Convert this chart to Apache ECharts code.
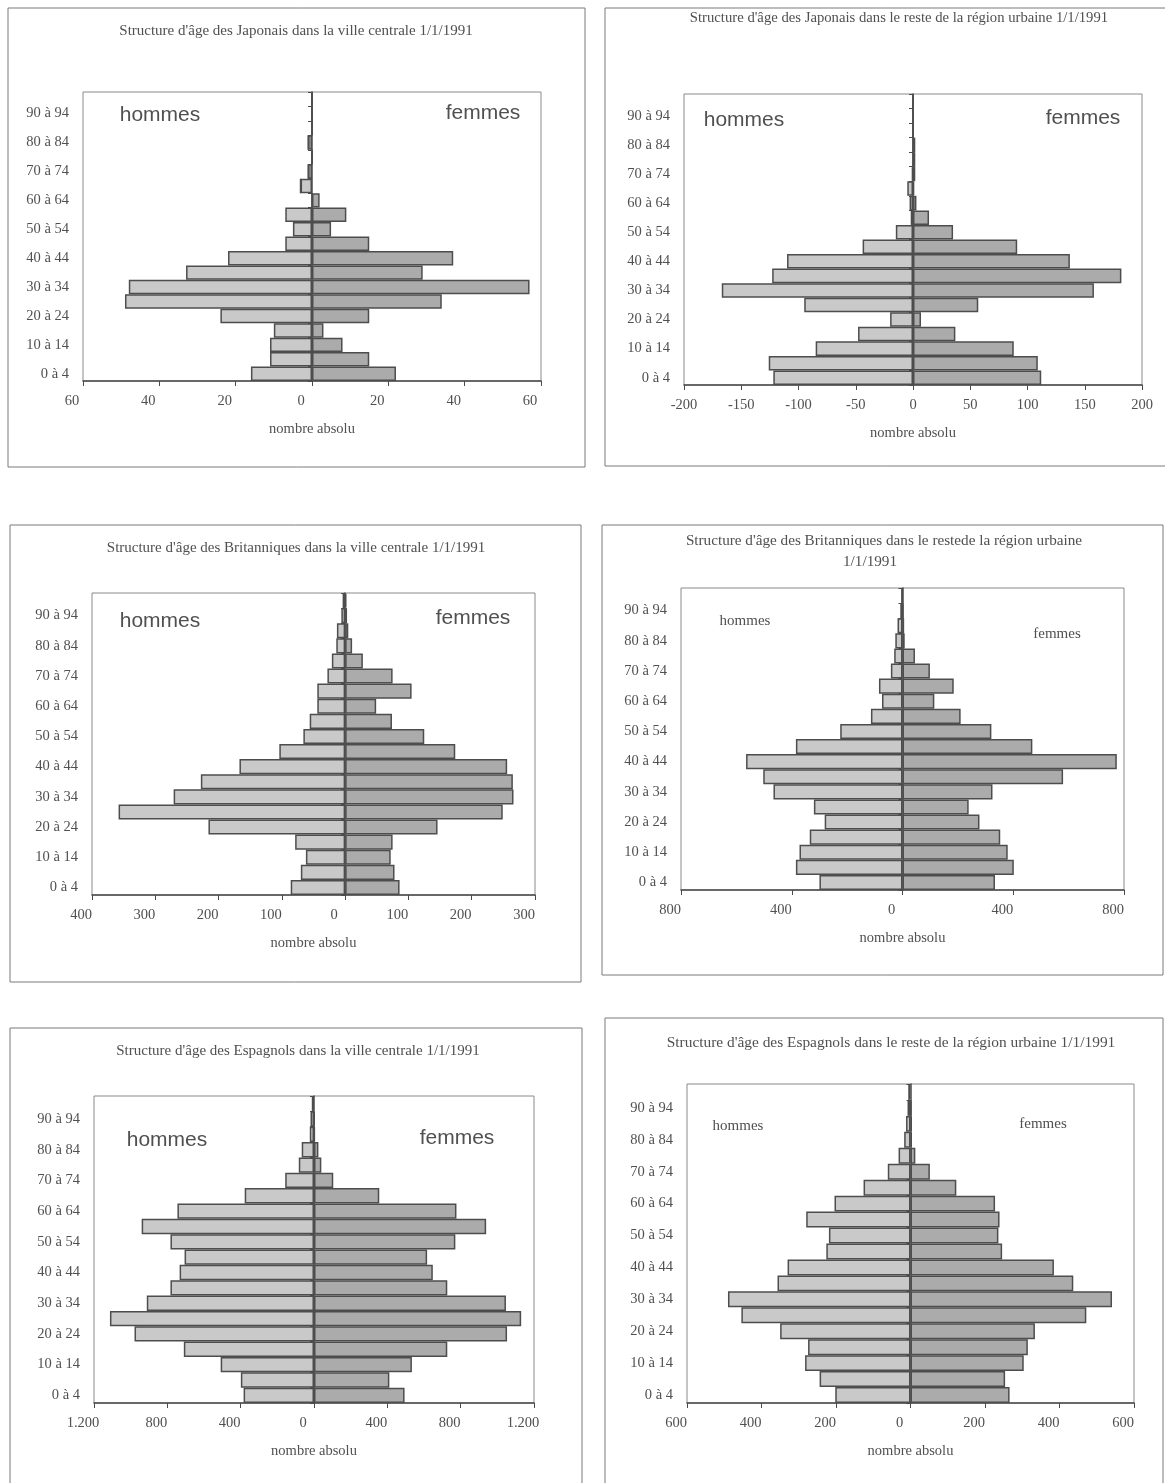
<!DOCTYPE html>
<html>
<head>
<meta charset="utf-8">
<script src="https://cdn.jsdelivr.net/npm/echarts@6/dist/echarts.min.js"></script>
<style>
html,body{margin:0;padding:0;background:#fff;}
#c{width:1165px;height:1483px;}
</style>
</head>
<body>
<div id="c"></div>
<script>
// Age groups (bottom to top)
const ageGroups = ['0 à 4','5 à 9','10 à 14','15 à 19','20 à 24','25 à 29','30 à 34','35 à 39','40 à 44','45 à 49',
  '50 à 54','55 à 59','60 à 64','65 à 69','70 à 74','75 à 79','80 à 84','85 à 89','90 à 94','95 à 99'];

// Japonais, ville centrale
const japVilleHommes = [16, 11, 11, 10, 24, 49, 48, 33, 22, 7, 5, 7, 0, 3, 1, 0, 1, 0, 0, 0];
const japVilleFemmes = [22, 15, 8, 3, 15, 34, 57, 29, 37, 15, 5, 9, 2, 0, 0, 0, 0, 0, 0, 0];
// Japonais, reste de la région urbaine
const japResteHommes = [122, 126, 85, 48, 20, 95, 167, 123, 110, 44, 15, 2, 3, 5, 1, 0, 0, 0, 0, 0];
const japResteFemmes = [112, 109, 88, 37, 7, 57, 158, 182, 137, 91, 35, 14, 3, 1, 2, 2, 2, 0, 0, 0];
// Britanniques, ville centrale
const briVilleHommes = [86, 70, 62, 79, 216, 358, 271, 228, 167, 104, 66, 56, 44, 44, 28, 21, 14, 13, 6, 4];
const briVilleFemmes = [86, 78, 72, 75, 146, 249, 266, 265, 256, 174, 125, 74, 49, 105, 75, 28, 11, 5, 3, 2];
// Britanniques, reste de la région urbaine
const briResteHommes = [300, 385, 372, 335, 281, 320, 466, 503, 565, 385, 225, 114, 74, 85, 42, 30, 26, 18, 8, 2];
const briResteFemmes = [334, 402, 380, 353, 278, 239, 325, 580, 774, 469, 321, 210, 115, 185, 99, 45, 8, 6, 2, 0];
// Espagnols, ville centrale
const espVilleHommes = [384, 399, 509, 710, 979, 1113, 912, 783, 733, 706, 783, 940, 745, 378, 157, 83, 67, 23, 19, 8];
const espVilleFemmes = [494, 411, 534, 727, 1053, 1130, 1047, 727, 648, 617, 771, 939, 777, 356, 105, 40, 24, 4, 2, 0];
// Espagnols, reste de la région urbaine
const espResteHommes = [202, 244, 283, 275, 350, 454, 490, 357, 330, 226, 219, 280, 204, 126, 61, 32, 17, 12, 8, 4];
const espResteFemmes = [266, 254, 304, 315, 334, 472, 541, 437, 385, 246, 236, 239, 227, 123, 52, 13, 4, 4, 2, 0];

// Axis ranges
const axisMins = [-60, -200, -400, -800, -1200, -600];
const axisMaxs = [60, 200, 300, 800, 1200, 600];
const axisIntervals = [20, 50, 100, 400, 400, 200];

// Texts
const titles = [
  "Structure d'âge des Japonais dans la ville centrale 1/1/1991",
  "Structure d'âge des Japonais dans le reste de la région urbaine 1/1/1991",
  "Structure d'âge des Britanniques dans la ville centrale 1/1/1991",
  "Structure d'âge des Britanniques dans le restede la région urbaine",
  "1/1/1991",
  "Structure d'âge des Espagnols dans la ville centrale 1/1/1991",
  "Structure d'âge des Espagnols dans le reste de la région urbaine 1/1/1991"
];
const xAxisTitle = 'nombre absolu';
const leftLabel = 'hommes';
const rightLabel = 'femmes';

const hommesData = [japVilleHommes, japResteHommes, briVilleHommes, briResteHommes, espVilleHommes, espResteHommes];
const femmesData = [japVilleFemmes, japResteFemmes, briVilleFemmes, briResteFemmes, espVilleFemmes, espResteFemmes];

// Layout (not data)
const grids = [
  {left: 83, top: 92, width: 458, height: 289},
  {left: 684, top: 94, width: 458, height: 291},
  {left: 92, top: 593, width: 443, height: 302},
  {left: 681, top: 588, width: 443, height: 302},
  {left: 94, top: 1096, width: 440, height: 307},
  {left: 687, top: 1084, width: 447, height: 319}
];
const signedLabels = [false, true, false, false, false, false];
const thousandsDot = [false, false, false, false, true, false];

const SERIF = '"Liberation Serif", "Times New Roman", serif';
const SANS = '"Liberation Sans", Arial, sans-serif';
const TXT = '#505050';
const AX = '#4a4a4a';

const option = {
  animation: false,
  backgroundColor: '#ffffff',
  grid: [], xAxis: [], yAxis: [], series: [], graphic: []
};

function fmtLabel(i) {
  return function (v) {
    let n = signedLabels[i] ? v : Math.abs(v);
    let s = String(n);
    if (thousandsDot[i] && Math.abs(n) >= 1000) {
      s = s.replace(/\B(?=(\d{3})+(?!\d))/g, '.');
    }
    return s;
  };
}

for (let i = 0; i < 6; i++) {
  option.grid.push(Object.assign({show: true, borderColor: '#8a8a8a', borderWidth: 1, backgroundColor: '#fff', containLabel: false}, grids[i]));
  option.xAxis.push({
    type: 'value', gridIndex: i, min: axisMins[i], max: axisMaxs[i], interval: axisIntervals[i],
    axisLine: {show: true, onZero: false, lineStyle: {color: AX, width: 1.5}},
    axisTick: {show: true, length: 5, lineStyle: {color: AX, width: 1}},
    splitLine: {show: false},
    axisLabel: {
      formatter: fmtLabel(i), fontFamily: SERIF, fontSize: 14.5, color: TXT, margin: 13,
      padding: signedLabels[i] ? 0 : [0, 22, 0, 0]
    },
    name: xAxisTitle, nameLocation: 'middle', nameGap: 41,
    nameTextStyle: {fontFamily: SERIF, fontSize: 14.5, color: TXT}
  });
  option.yAxis.push({
    type: 'category', gridIndex: i, data: ageGroups, position: 'left',
    axisLine: {show: false, onZero: false}, axisTick: {show: false},
    axisLabel: {interval: 1, fontFamily: SERIF, fontSize: 14.5, color: TXT, margin: 14},
    splitLine: {show: false}
  });
  option.yAxis.push({
    type: 'category', gridIndex: i, data: ageGroups, position: 'left',
    axisLine: {show: true, onZero: true, lineStyle: {color: AX, width: 1.5}},
    axisTick: {show: true, interval: 0, length: 4, lineStyle: {color: AX}},
    axisLabel: {show: false}, splitLine: {show: false}
  });
  option.series.push({
    type: 'bar', xAxisIndex: i, yAxisIndex: 2 * i, stack: 'p' + i, barCategoryGap: '0%',
    data: hommesData[i].map(v => -v),
    itemStyle: {color: '#c9c9c9', borderColor: '#4d4d4d', borderWidth: 1.5}
  });
  option.series.push({
    type: 'bar', xAxisIndex: i, yAxisIndex: 2 * i, stack: 'p' + i, barCategoryGap: '0%',
    data: femmesData[i],
    itemStyle: {color: '#ababab', borderColor: '#4d4d4d', borderWidth: 1.5}
  });
}

// Outer chart-area boxes
const boxes = [
  [8, 8, 577, 459], [605, 8, 570, 458], [10, 525, 571, 457],
  [602, 525, 561, 450], [10, 1028, 572, 470], [605, 1018, 558, 470]
];
boxes.forEach(b => option.graphic.push({
  type: 'rect', silent: true, z: -10,
  shape: {x: b[0], y: b[1], width: b[2], height: b[3]},
  style: {fill: 'none', stroke: '#7a7a7a', lineWidth: 1}
}));

function txt(text, x, y, size, fam) {
  option.graphic.push({
    type: 'text', silent: true, x: x, y: y, z: 10,
    style: {text: text, fill: TXT, fontSize: size, fontFamily: fam, align: 'center', verticalAlign: 'middle'}
  });
}
// Titles
txt(titles[0], 296, 31, 15, SERIF);
txt(titles[1], 899, 18, 14.7, SERIF);
txt(titles[2], 296, 548, 15, SERIF);
txt(titles[3], 884, 541, 15.2, SERIF);
txt(titles[4], 870, 562, 15.2, SERIF);
txt(titles[5], 298, 1051, 15, SERIF);
txt(titles[6], 891, 1043, 15.4, SERIF);
// hommes / femmes
txt(leftLabel, 160, 115, 21, SANS);  txt(rightLabel, 483, 113, 21, SANS);
txt(leftLabel, 744, 120, 21, SANS);  txt(rightLabel, 1083, 118, 21, SANS);
txt(leftLabel, 160, 621, 21, SANS);  txt(rightLabel, 473, 618, 21, SANS);
txt(leftLabel, 745, 621, 15, SERIF); txt(rightLabel, 1057, 634, 15, SERIF);
txt(leftLabel, 167, 1140, 21, SANS); txt(rightLabel, 457, 1138, 21, SANS);
txt(leftLabel, 738, 1126, 15, SERIF); txt(rightLabel, 1043, 1124, 15, SERIF);

const chart = echarts.init(document.getElementById('c'), null, {renderer: 'canvas'});
chart.setOption(option);
</script>
</body>
</html>
